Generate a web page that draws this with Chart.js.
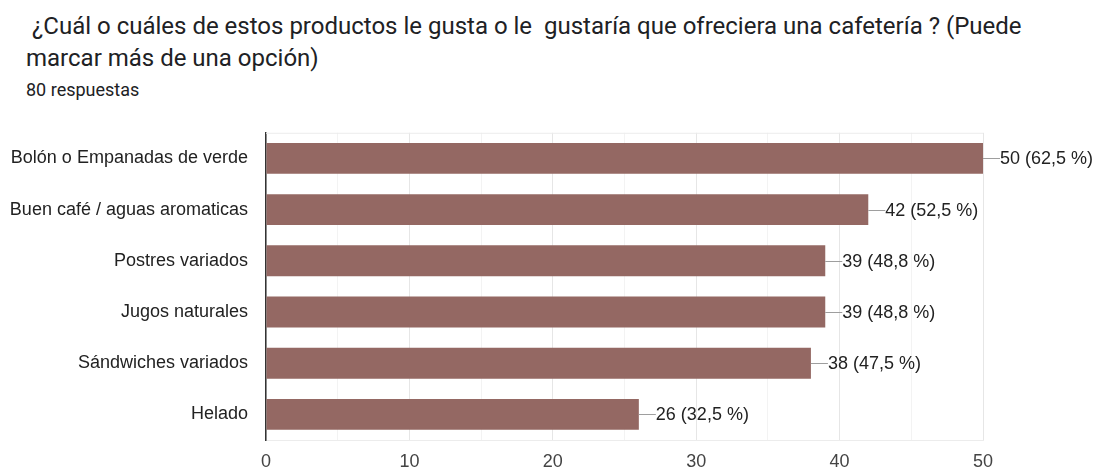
<!DOCTYPE html>
<html>
<head>
<meta charset="utf-8">
<script src="https://cdn.jsdelivr.net/npm/chart.js@4"></script>
<style>
  body { margin: 0; background: #fff; font-family: Roboto, sans-serif; }
  #wrap { position: relative; width: 1110px; height: 469px; overflow: hidden; }
  .title { position: absolute; left: 26px; color: #202124; font-size: 24px; line-height: 32px; white-space: pre; }
  .sub { position: absolute; left: 26px; top: 80px; color: #202124; font-size: 18px; line-height: 20px; }
  #chartBox { position: absolute; left: 0; top: 104px; width: 1110px; height: 365px; }
  canvas { display: block; }
</style>
</head>
<body>
<div id="wrap">
  <div class="title" style="top:10px"> ¿Cuál o cuáles de estos productos le gusta o le  gustaría que ofreciera una cafetería ? (Puede</div>
  <div class="title" style="top:42px">marcar más de una opción)</div>
  <div class="sub">80 respuestas</div>
  <div id="chartBox"><canvas id="chart" width="1110" height="365"></canvas></div>
</div>
<script>
const categories = [
    'Bolón o Empanadas de verde',
    'Buen café / aguas aromaticas',
    'Postres variados',
    'Jugos naturales',
    'Sándwiches variados',
    'Helado'
];
const counts = [50, 42, 39, 39, 38, 26];
const percents = ['62,5', '52,5', '48,8', '48,8', '47,5', '32,5'];
const xTicks = [0, 10, 20, 30, 40, 50];

const labelFont = '"Liberation Sans", Arial, sans-serif';

// Leader line + "n (p %)" label at the end of each bar
const valueLabels = {
    id: 'valueLabels',
    afterDatasetsDraw(chart) {
        const ctx = chart.ctx;
        const meta = chart.getDatasetMeta(0);
        ctx.save();
        ctx.font = '18px ' + labelFont;
        ctx.textBaseline = 'middle';
        ctx.textAlign = 'left';
        meta.data.forEach((bar, i) => {
            const x = bar.x;
            const y = Math.round(bar.y);
            ctx.strokeStyle = '#9e9e9e';
            ctx.lineWidth = 1;
            ctx.beginPath();
            ctx.moveTo(x, y + 0.5);
            ctx.lineTo(x + 17, y + 0.5);
            ctx.stroke();
            ctx.fillStyle = '#222';
            ctx.fillText(`${counts[i]} (${percents[i]} %)`, x + 17, y + 1);
        });
        ctx.restore();
    }
};

// Light line along the top of the plot area
const topBorder = {
    id: 'topBorder',
    beforeDatasetsDraw(chart) {
        const { ctx, chartArea } = chart;
        ctx.save();
        ctx.strokeStyle = '#ececec';
        ctx.lineWidth = 1;
        ctx.beginPath();
        ctx.moveTo(chartArea.left, chartArea.top + 0.5);
        ctx.lineTo(chartArea.right, chartArea.top + 0.5);
        ctx.stroke();
        ctx.restore();
    }
};

new Chart(document.getElementById('chart'), {
    type: 'bar',
    data: {
        labels: categories,
        datasets: [{
            data: counts,
            backgroundColor: '#946863',
            borderWidth: 0,
            barPercentage: 0.755,
            categoryPercentage: 0.8
        }]
    },
    options: {
        indexAxis: 'y',
        responsive: false,
        animation: false,
        layout: { padding: { top: 16, right: 127, bottom: 0, left: 0 } },
        plugins: {
            legend: { display: false },
            tooltip: { enabled: false }
        },
        scales: {
            x: {
                min: 0,
                max: 50,
                ticks: {
                    stepSize: 5,
                    padding: 11,
                    color: '#444',
                    font: { family: labelFont, size: 18 },
                    callback: v => (xTicks.includes(v) ? v : '')
                },
                grid: {
                    drawTicks: false,
                    color: c => (c.tick && c.tick.value % 10 === 0 ? '#e6e6e6' : '#f3f3f3')
                },
                border: { display: true, color: '#ececec' },
                afterFit: s => { s.height = 29; }
            },
            y: {
                ticks: {
                    padding: 18,
                    color: '#222',
                    font: { family: labelFont, size: 18 }
                },
                grid: { display: false, drawTicks: false },
                border: { display: true, color: '#333', width: 1.5 },
                afterFit: s => { s.width = 266; }
            }
        }
    },
    plugins: [topBorder, valueLabels]
});
</script>
</body>
</html>
